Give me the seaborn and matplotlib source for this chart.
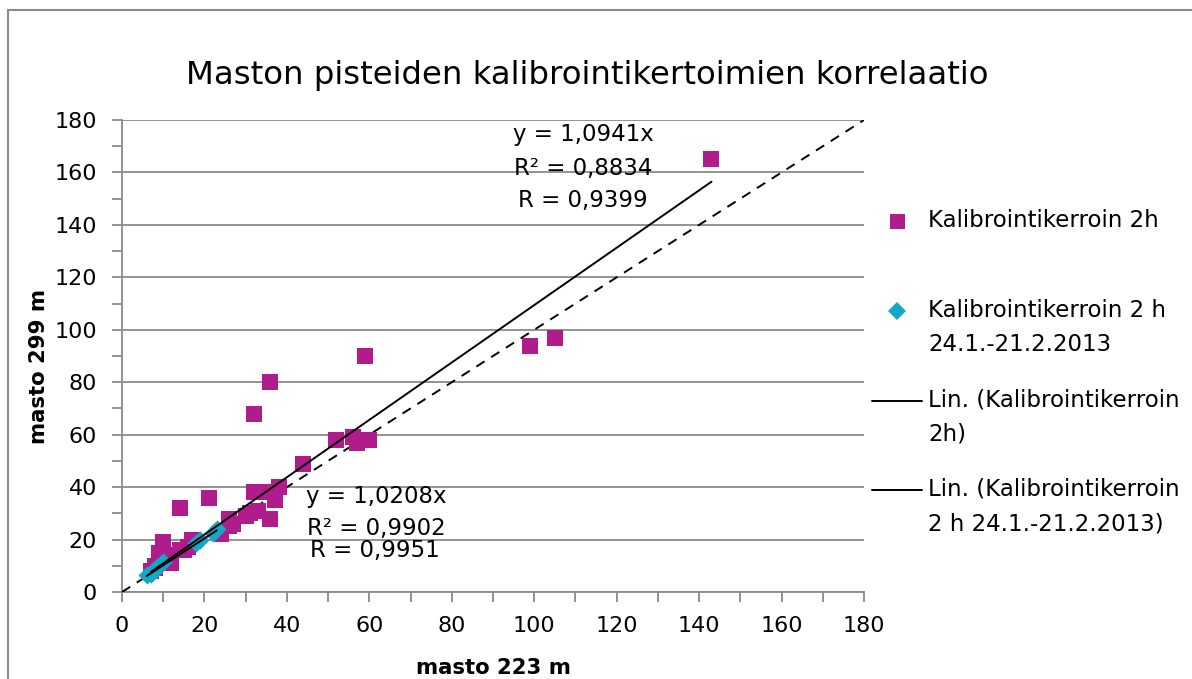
import numpy as np
import pandas as pd
import matplotlib
matplotlib.use("Agg")
import matplotlib.pyplot as plt
from matplotlib.lines import Line2D
from matplotlib.patches import Rectangle
import seaborn as sns

# ---------------- data ----------------
title = "Maston pisteiden kalibrointikertoimien korrelaatio"
x_label = "masto 223 m"
y_label = "masto 299 m"
series1_name = "Kalibrointikerroin 2h\n "
series2_name = "Kalibrointikerroin 2 h\n24.1.-21.2.2013"
trend1_name = "Lin. (Kalibrointikerroin\n2h)"
trend2_name = "Lin. (Kalibrointikerroin\n2 h 24.1.-21.2.2013)"

s1_x = [143, 105, 99, 59, 36, 32, 60, 57, 56, 52, 44, 38, 37, 36, 32, 34,
        36, 31, 30, 33, 26, 26, 21, 14, 17, 16, 15, 14, 12, 11, 10, 9, 8, 7,
        8, 9, 12, 24, 27]
s1_y = [165, 97, 94, 90, 80, 68, 58, 57, 59, 58, 49, 40, 35, 38, 38, 38,
        28, 30, 29, 31, 28, 25, 36, 32, 20, 17, 16, 16, 11, 12, 19, 15, 10, 8,
        9, 12, 14, 22, 26]
s2_x = [6, 7, 7.5, 8, 8.5, 9, 10, 18, 19, 22, 23]
s2_y = [6.5, 7, 8, 8.5, 9.5, 10, 11.5, 18.5, 20, 22.5, 24]

trend1_slope = 1.0941
trend2_slope = 1.0208
trend1_stats = ["y = 1,0941x", "R² = 0,8834", "R = 0,9399"]
trend2_stats = ["y = 1,0208x", "R² = 0,9902", "R = 0,9951"]

ref_x = [0, 180]
ref_y = [0, 180]
tick_values = list(range(0, 181, 20))
tick_labels = [str(v) for v in tick_values]

# ---------------- style ----------------
magenta = "#B01C8C"
cyan = "#14A8C8"
gray = "#8A8A8A"

sns.set_style("white")
plt.rcParams['font.family'] = ['DejaVu Sans']
plt.rcParams['text.color'] = 'black'
plt.rcParams['axes.labelcolor'] = 'black'
plt.rcParams['xtick.color'] = 'black'
plt.rcParams['ytick.color'] = 'black'

W, H = 1192, 679
fig = plt.figure(figsize=(W / 100, H / 100), dpi=100)
ax = fig.add_axes([122 / W, 1 - 592 / H, 742 / W, 472 / H])

# frame around chart area
fig.patches.append(Rectangle((8 / W, -0.1), 1.2, 1.1 - 10 / H, transform=fig.transFigure,
                             fill=False, edgecolor=gray, linewidth=1.5))

# reference 1:1 dashed line
sns.lineplot(x=ref_x, y=ref_y, ax=ax, color="black", linewidth=1.4,
             linestyle=(0, (5, 4)), zorder=3)

# scatter series
sns.scatterplot(x=s1_x, y=s1_y, ax=ax, marker="s", s=117, color=magenta,
                linewidth=0, zorder=4)
sns.scatterplot(x=s2_x, y=s2_y, ax=ax, marker="D", s=85, color=cyan,
                linewidth=0, zorder=5)

# trendlines through origin
t1x = np.array([min(s1_x), max(s1_x)])
t2x = np.array([min(s2_x), max(s2_x)])
sns.lineplot(x=t1x, y=trend1_slope * t1x, ax=ax, color="black", linewidth=1.4, zorder=6)
sns.lineplot(x=t2x, y=trend2_slope * t2x, ax=ax, color="black", linewidth=1.4, zorder=6)

ax.set_xlim(0, 180)
ax.set_ylim(0, 180)
ax.set_xticks(tick_values)
ax.set_xticklabels(tick_labels)
ax.set_yticks(tick_values)
ax.set_yticklabels(tick_labels)
ax.set_xticks(list(range(10, 180, 20)), minor=True)
ax.set_yticks(list(range(10, 180, 20)), minor=True)
ax.tick_params(axis="both", which="both", direction="out", length=7, width=1.3,
               color=gray, labelsize=16, labelcolor="black")
ax.tick_params(axis="x", which="major", pad=10, bottom=True)
ax.tick_params(axis="y", which="major", pad=11, left=True)
ax.tick_params(axis="x", which="minor", bottom=True)
ax.tick_params(axis="y", which="minor", left=True)
ax.grid(False)
ax.yaxis.grid(True, which="major", color=gray, linewidth=1.3)
for side in ["top", "right"]:
    ax.spines[side].set_visible(False)
for side in ["left", "bottom"]:
    ax.spines[side].set_color(gray)
    ax.spines[side].set_linewidth(1.3)
ax.set_xlabel("")
ax.set_ylabel("")

# title and axis labels
fig.text(587 / W, 1 - 84 / H, title, ha="center", va="baseline", fontsize=23.3)
fig.text(493 / W, 1 - 674 / H, x_label, ha="center", va="baseline",
         fontsize=15.3, fontweight="bold")
fig.text(45 / W, 1 - 367 / H, y_label, ha="center", va="baseline", rotation=90,
         rotation_mode="anchor", fontsize=15.3, fontweight="bold")

# trendline equations
for txt, py in zip(trend1_stats, [135, 168, 200]):
    ax.text(583 / W, 1 - py / H, txt, transform=fig.transFigure, ha="center",
            va="center", fontsize=16.5)
for txt, px, py in zip(trend2_stats, [376, 376, 375], [497, 528, 550]):
    ax.text(px / W, 1 - py / H, txt, transform=fig.transFigure, ha="center",
            va="center", fontsize=16.5)

# legend
LEG_FS = 16.5
LEG_LS = 1.64
handles = [
    Line2D([], [], marker="s", linestyle="", markersize=10.8, color=magenta, markeredgewidth=0),
    Line2D([], [], marker="D", linestyle="", markersize=9.2, color=cyan, markeredgewidth=0),
    Line2D([], [], color="black", linewidth=1.4),
    Line2D([], [], color="black", linewidth=1.4),
]
labels = [series1_name, series2_name, trend1_name, trend2_name]
leg = ax.legend(handles, labels, loc="upper left", bbox_to_anchor=(872 / W, 1 - 209 / H),
                bbox_transform=fig.transFigure, frameon=False, fontsize=LEG_FS,
                handlelength=2.2, handletextpad=0.26, borderpad=0, borderaxespad=0,
                labelspacing=1.4, numpoints=1)
for t in leg.get_texts():
    t.set_linespacing(LEG_LS)

# Align each entry's handle with the first line of its label
fig.canvas.draw()
tmp1 = fig.text(0.5, 0.5, "Ag", fontsize=LEG_FS, linespacing=LEG_LS)
tmp2 = fig.text(0.5, 0.5, "Ag\nAg", fontsize=LEG_FS, linespacing=LEG_LS)
r = fig.canvas.get_renderer()
pitch_px = tmp2.get_window_extent(r).height - tmp1.get_window_extent(r).height
tmp1.remove()
tmp2.remove()
for t, hdl in zip(leg.get_texts(), leg.legend_handles):
    n = t.get_text().count("\n") + 1
    if n > 1:
        yd = np.asarray(hdl.get_ydata(), dtype=float)
        hdl.set_ydata(yd + pitch_px * 72 / fig.dpi * (n - 1) / 2)

fig.savefig("out.png", dpi=100)
